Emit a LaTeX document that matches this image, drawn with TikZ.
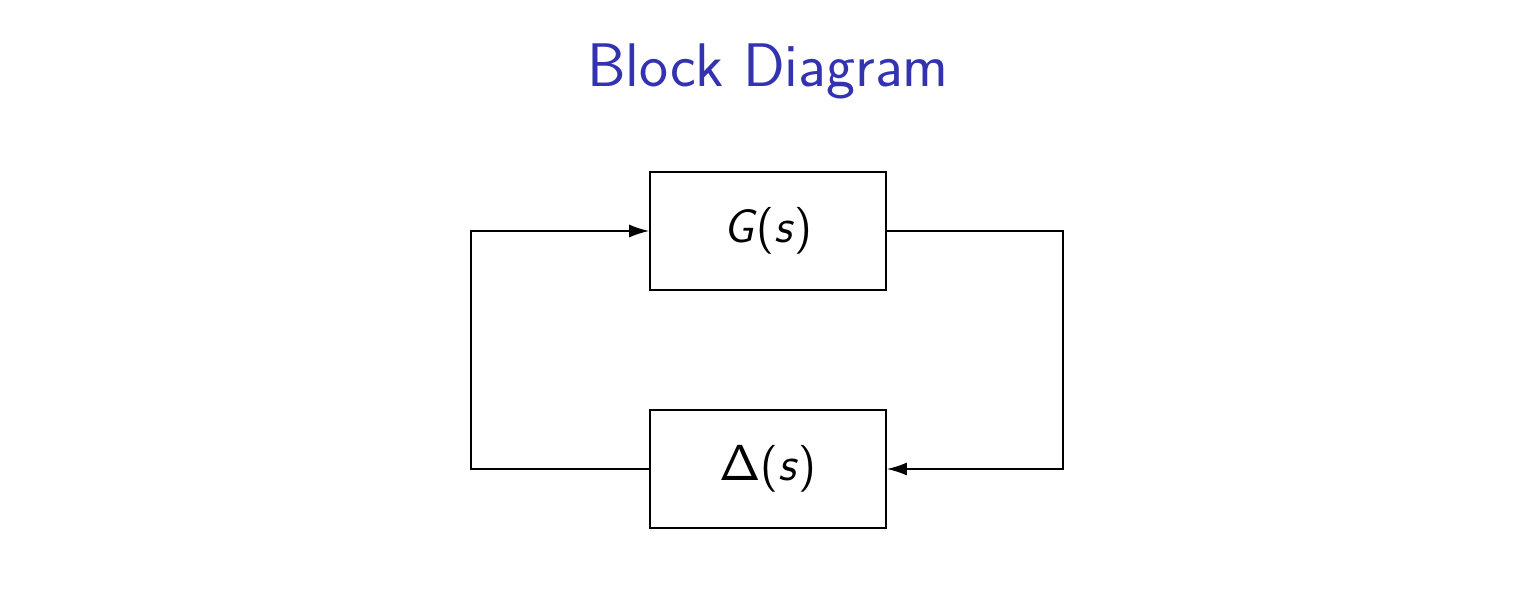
\documentclass[tikz,border=0pt]{standalone}
\usetikzlibrary{arrows.meta}
\definecolor{titleblue}{RGB}{51,51,178}
\begin{document}
\begin{tikzpicture}[x=0.01cm,y=-0.01cm,
  blockbox/.style={draw,line width=0.45pt,minimum width=2.36cm,minimum height=1.18cm,inner sep=0pt,font=\sffamily\fontsize{13.3}{16}\selectfont},
  wire/.style={line width=0.45pt},
  arr/.style={wire,-{Latex[length=0.2cm,width=0.13cm]}}]
\useasboundingbox (0,0) rectangle (1536,591);
\node[anchor=base,text=titleblue,font=\sffamily\fontsize{17.5}{21}\selectfont] (title) at (768,87) {Block Diagram};
\node[blockbox] (G) at (768,231) {\textit{G}(\textit{s})};
\node[blockbox] (D) at (768,469) {$\mathsf{\Delta}$(\textit{s})};
\coordinate (r1) at (1063,231);
\coordinate (r2) at (1063,469);
\coordinate (l1) at (471,469);
\coordinate (l2) at (471,231);
\draw[arr] (G.east) -- (r1) -- (r2) -- (D.east);
\draw[arr] (D.west) -- (l1) -- (l2) -- (G.west);
\end{tikzpicture}
\end{document}
